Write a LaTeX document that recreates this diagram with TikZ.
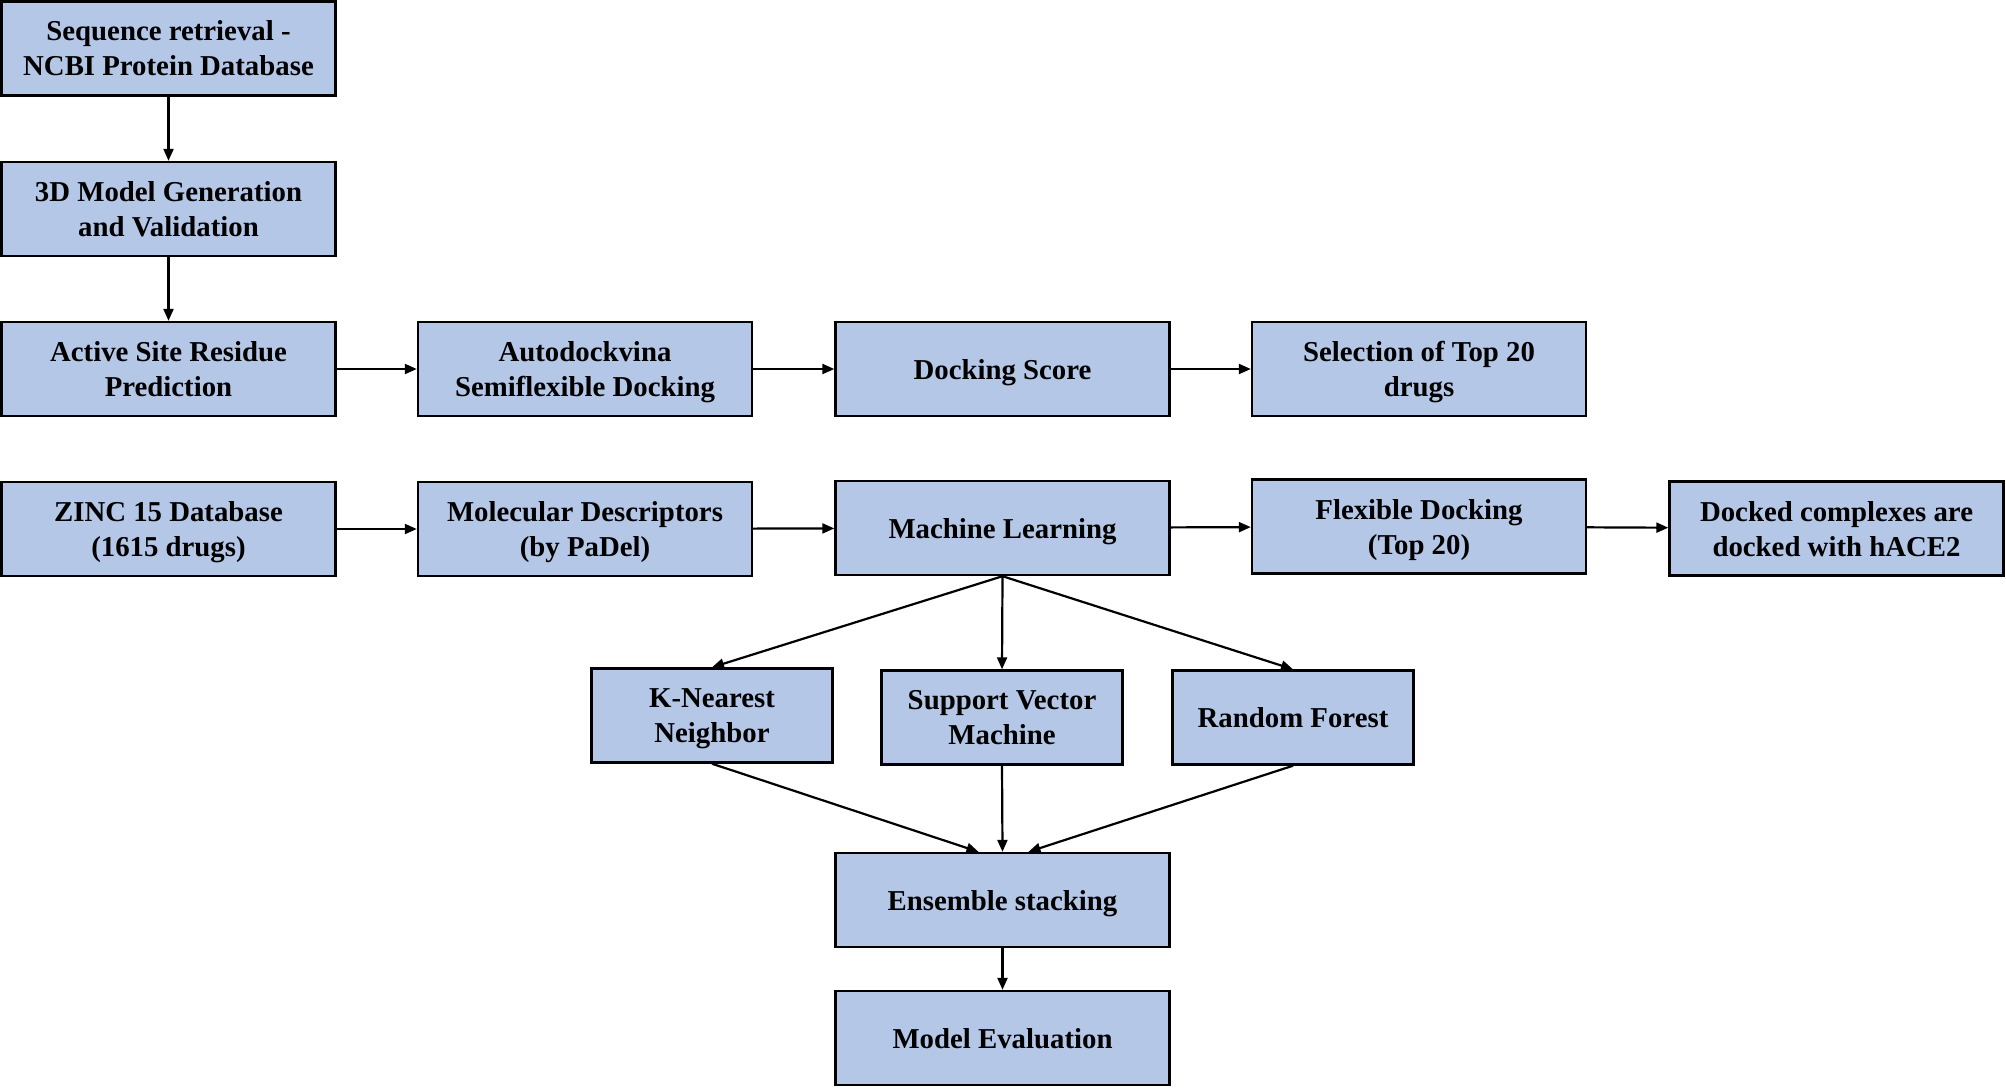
\documentclass[tikz,border=0pt]{standalone}
\usepackage{fontspec}
\setmainfont{Liberation Serif}
\usetikzlibrary{arrows.meta}
\definecolor{boxblue}{HTML}{B4C7E7}
\begin{document}
\begin{tikzpicture}[x=0.5pt,y=-0.5pt,
  bigbox/.style={draw=black, line width=1.2pt, fill=boxblue, minimum width=167pt, minimum height=47pt, align=center, font=\bfseries\fontsize{14.4}{17.5}\selectfont, inner sep=0pt, text depth=0pt},
  smallbox/.style={bigbox, minimum width=120.5pt},
  arr/.style={line width=1.1pt, -{Triangle[length=6pt,width=5pt]}}]
\useasboundingbox (0,0) rectangle (2006,1088);
\node[bigbox] (seq) at (168.5,48.5) {Sequence retrieval -\\NCBI Protein Database};
\node[bigbox] (model) at (168.5,209) {3D Model Generation\\and Validation};
\node[bigbox] (active) at (168.5,369) {Active Site Residue\\Prediction};
\node[bigbox] (auto) at (585,369) {Autodockvina\\Semiflexible Docking};
\node[bigbox] (score) at (1002.5,369) {Docking Score};
\node[bigbox] (top) at (1419,369) {Selection of Top 20\\drugs};
\node[bigbox] (zinc) at (168.5,529) {ZINC 15 Database\\(1615 drugs)};
\node[bigbox] (desc) at (585,529) {Molecular Descriptors\\(by PaDel)};
\node[bigbox] (ml) at (1002.5,528) {Machine Learning};
\node[bigbox] (flex) at (1419,526.5) {Flexible Docking\\(Top 20)};
\node[bigbox] (dock) at (1836.5,528.5) {Docked complexes are\\docked with hACE2};
\node[smallbox] (knn) at (712,715.5) {K-Nearest\\Neighbor};
\node[smallbox] (svm) at (1002,717.5) {Support Vector\\Machine};
\node[smallbox] (rf) at (1293,717.5) {Random Forest};
\node[bigbox] (ens) at (1002.5,900) {Ensemble stacking};
\node[bigbox] (eval) at (1002.5,1038) {Model Evaluation};
\draw[arr] (seq) -- (model);
\draw[arr] (model) -- (active);
\draw[arr] (active) -- (auto);
\draw[arr] (auto) -- (score);
\draw[arr] (score) -- (top);
\draw[arr] (zinc) -- (desc);
\draw[arr] (desc) -- (ml);
\draw[arr] (ml) -- (flex);
\draw[arr] (flex) -- (dock);
\draw[arr] (ml.south) -- (knn.north);
\draw[arr] (ml.south) -- (svm.north);
\draw[arr] (ml.south) -- (rf.north);
\coordinate (ensl) at ([xshift=-12pt]ens.north);
\coordinate (ensr) at ([xshift=13pt]ens.north);
\draw[arr] (knn.south) -- (ensl);
\draw[arr] (svm.south) -- (ens.north);
\draw[arr] (rf.south) -- (ensr);
\draw[arr] (ens) -- (eval);
\end{tikzpicture}
\end{document}
